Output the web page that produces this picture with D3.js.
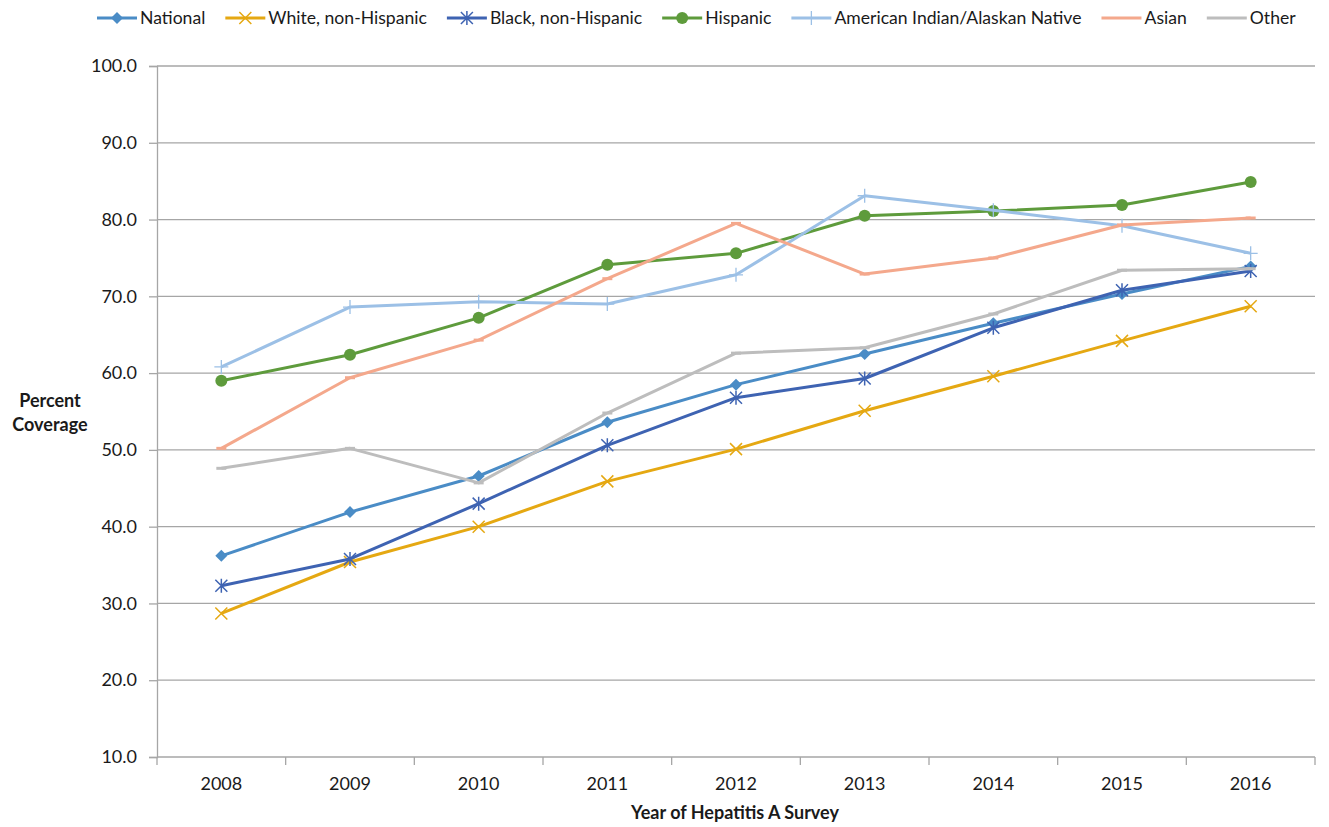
<!DOCTYPE html>
<html>
<head>
<meta charset="utf-8">
<script src="https://cdn.jsdelivr.net/npm/d3@7"></script>
<style>
    body { margin: 0; background: #fff; }
    text { font-family: Lato, 'Open Sans', sans-serif; fill: #1a1a1a; }
    .title { font-weight: bold; }
</style>
</head>
<body>
<div id="chart"></div>
<script>
const years = ['2008', '2009', '2010', '2011', '2012', '2013', '2014', '2015', '2016'];
const yTicks = [10, 20, 30, 40, 50, 60, 70, 80, 90, 100];

const national = [36.2, 41.9, 46.6, 53.6, 58.5, 62.5, 66.5, 70.3, 73.9];
const white = [28.7, 35.4, 40.0, 45.9, 50.1, 55.1, 59.6, 64.2, 68.7];
const black = [32.3, 35.8, 43.0, 50.6, 56.8, 59.3, 65.9, 70.8, 73.3];
const hispanic = [59.0, 62.4, 67.2, 74.1, 75.6, 80.5, 81.1, 81.9, 84.9];
const aian = [60.8, 68.6, 69.3, 69.0, 72.8, 83.1, 81.2, 79.2, 75.6];
const asian = [50.2, 59.4, 64.3, 72.3, 79.5, 72.9, 75.0, 79.3, 80.2];
const other = [47.6, 50.2, 45.7, 54.8, 62.6, 63.3, 67.7, 73.4, 73.6];

const series = [
    { name: 'National', values: national, color: '#4a8cc6', marker: 'diamond' },
    { name: 'White, non-Hispanic', values: white, color: '#e5a812', marker: 'x' },
    { name: 'Black, non-Hispanic', values: black, color: '#3e63b2', marker: 'star' },
    { name: 'Hispanic', values: hispanic, color: '#5e9b3c', marker: 'circle' },
    { name: 'American Indian/Alaskan Native', values: aian, color: '#9cc0e6', marker: 'plus' },
    { name: 'Asian', values: asian, color: '#f4a88c', marker: 'dash' },
    { name: 'Other', values: other, color: '#bdbdbd', marker: 'dash' }
];

const width = 1329;
const height = 827;
const margin = { top: 66, right: 14, bottom: 70, left: 157 };
const chartWidth = width - margin.left - margin.right;
const chartHeight = height - margin.top - margin.bottom;
const FONT_SIZE = 18;

const svg = d3.select('#chart').append('svg').attr('width', width).attr('height', height);
const chart = svg.append('g').attr('transform', `translate(${margin.left}, ${margin.top})`);

const xScale = d3.scaleBand().domain(years).range([0, chartWidth]);
const yScale = d3.scaleLinear().domain([10, 100]).range([chartHeight, 0]);
const xPos = (i) => xScale(years[i]) + xScale.bandwidth() / 2;

// Horizontal grid lines
chart
    .append('g')
    .selectAll()
    .data(yTicks.filter((t) => t > 10))
    .enter()
    .append('line')
    .attr('x1', 0)
    .attr('x2', chartWidth)
    .attr('y1', (t) => yScale(t))
    .attr('y2', (t) => yScale(t))
    .attr('stroke', '#a6a6a6')
    .attr('stroke-width', 1.3);

// Y axis
const yAxis = d3.axisLeft(yScale).tickValues(yTicks).tickFormat(d3.format('.1f')).tickSize(8).tickPadding(12);
const yG = chart.append('g').call(yAxis);
yG.select('.domain').attr('stroke', '#a6a6a6').attr('stroke-width', 1.3);
yG.selectAll('.tick line').attr('stroke', '#a6a6a6').attr('stroke-width', 1.3);
yG.selectAll('.tick text').attr('font-size', FONT_SIZE).attr('fill', '#1a1a1a').attr('font-family', 'Lato');

// X axis: ticks sit between categories
const xG = chart.append('g').attr('transform', `translate(0, ${chartHeight})`);
xG.append('line').attr('x1', 0).attr('x2', chartWidth).attr('stroke', '#a6a6a6').attr('stroke-width', 1.3);
xG.selectAll('.sep')
    .data(years.map((y, i) => i).concat([years.length]))
    .enter()
    .append('line')
    .attr('x1', (i) => i * xScale.step())
    .attr('x2', (i) => i * xScale.step())
    .attr('y1', 0)
    .attr('y2', 8)
    .attr('stroke', '#a6a6a6')
    .attr('stroke-width', 1.3);
xG.selectAll('.lbl')
    .data(years)
    .enter()
    .append('text')
    .attr('x', (y, i) => xPos(i))
    .attr('y', 33)
    .attr('text-anchor', 'middle')
    .attr('font-size', FONT_SIZE)
    .text((y) => y);

// Lines
const line = d3
    .line()
    .x((v, i) => xPos(i))
    .y((v) => yScale(v));

function drawMarker(g, type, color) {
    if (type === 'diamond') {
        g.append('path').attr('d', 'M0,-6L6,0L0,6L-6,0Z').attr('fill', color);
    } else if (type === 'circle') {
        g.append('circle').attr('r', 6).attr('fill', color);
    } else if (type === 'x') {
        g.append('path').attr('d', 'M-6,-6L6,6M-6,6L6,-6').attr('stroke', color).attr('stroke-width', 1.5);
    } else if (type === 'star') {
        g.append('path')
            .attr('d', 'M-6,-6L6,6M-6,6L6,-6M0,-7L0,7')
            .attr('stroke', color)
            .attr('stroke-width', 1.5);
    } else if (type === 'plus') {
        g.append('path').attr('d', 'M-7,0L7,0M0,-7L0,7').attr('stroke', color).attr('stroke-width', 1.3);
    } else if (type === 'dash') {
        g.append('path').attr('d', 'M-5,0L5,0').attr('stroke', color).attr('stroke-width', 3);
    }
}

for (let s of series) {
    chart
        .append('path')
        .datum(s.values)
        .attr('fill', 'none')
        .attr('stroke', s.color)
        .attr('stroke-width', 3)
        .attr('stroke-linejoin', 'round')
        .attr('d', line);
    s.values.forEach((v, i) => {
        const g = chart.append('g').attr('transform', `translate(${xPos(i)}, ${yScale(v)})`);
        drawMarker(g, s.marker, s.color);
    });
}

// Axis titles
svg.append('text')
    .attr('class', 'title')
    .attr('x', 50)
    .attr('y', 407)
    .attr('text-anchor', 'middle')
    .attr('font-size', FONT_SIZE)
    .text('Percent');
svg.append('text')
    .attr('class', 'title')
    .attr('x', 50)
    .attr('y', 431)
    .attr('text-anchor', 'middle')
    .attr('font-size', FONT_SIZE)
    .text('Coverage');
svg.append('text')
    .attr('class', 'title')
    .attr('x', margin.left + chartWidth / 2 - 1)
    .attr('y', 819)
    .attr('text-anchor', 'middle')
    .attr('font-size', FONT_SIZE)
    .text('Year of Hepatitis A Survey');

// Legend
const legend = svg.append('g').attr('transform', 'translate(97, 18)');
let lx = 0;
for (let s of series) {
    const item = legend.append('g').attr('transform', `translate(${lx}, 0)`);
    item.append('line').attr('x1', 0).attr('x2', 40).attr('stroke', s.color).attr('stroke-width', 3);
    const m = item.append('g').attr('transform', 'translate(20, 0)');
    drawMarker(m, s.marker === 'dash' ? 'none' : s.marker, s.color);
    const t = item
        .append('text')
        .attr('x', 43)
        .attr('y', 6)
        .attr('font-size', 17.6)
        .text(s.name);
    lx += 43 + t.node().getComputedTextLength() + 20;
}
</script>
</body>
</html>
